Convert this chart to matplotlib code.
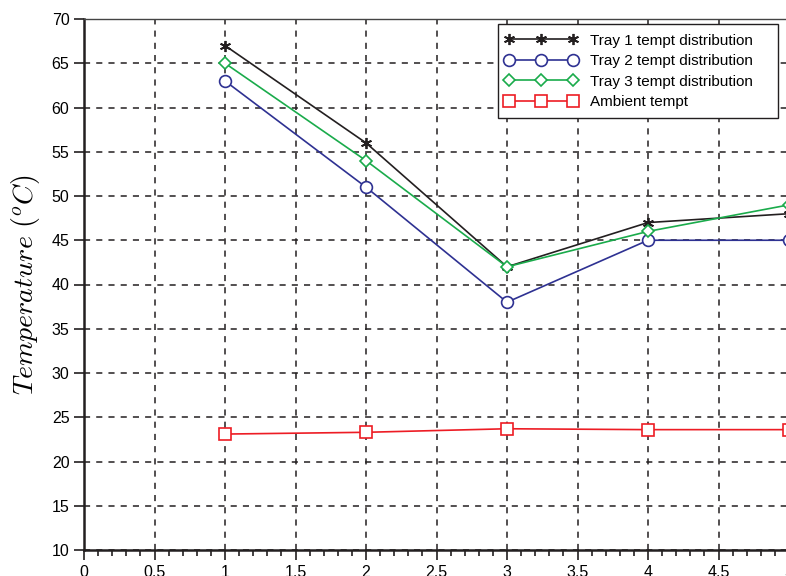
import numpy as np
import matplotlib
matplotlib.use('Agg')
import matplotlib.pyplot as plt
from matplotlib.patches import Rectangle
from matplotlib.ticker import MultipleLocator

# data
x = [1, 2, 3, 4, 5]
tray1 = [67, 56, 42, 47, 48]
tray2 = [63, 51, 38, 45, 45]
tray3 = [65, 54, 42, 46, 49]
ambient = [23.1, 23.3, 23.7, 23.6, 23.6]

plt.rcParams['font.family'] = 'Liberation Sans'
plt.rcParams['mathtext.fontset'] = 'cm'

fig = plt.figure(figsize=(7.86, 5.76), dpi=100)
ax = fig.add_axes([84/786, 26/576, 705/786, 531/576])

ax.plot(x, tray1, color='#231f20', lw=1.2, marker=(6, 2, 0), ms=8, mew=1.3,
        label='Tray 1 tempt distribution')
ax.plot(x, tray2, color='#2e3192', lw=1.2, marker='o', ms=8.5, mfc='white', mew=1.2,
        label='Tray 2 tempt distribution')
ax.plot(x, tray3, color='#1aab4b', lw=1.2, marker='D', ms=6, mfc='white', mew=1.2,
        label='Tray 3 tempt distribution')
ax.plot(x, ambient, color='#ed1c24', lw=1.2, marker='s', ms=8, mfc='white', mew=1.2,
        label='Ambient tempt')

ax.set_xlim(0, 5)
ax.set_ylim(10, 70)
ax.xaxis.set_minor_locator(MultipleLocator(0.1))
ax.yaxis.set_major_locator(MultipleLocator(5))
ax.set_xticks(np.arange(0, 5.01, 0.5))
ax.set_xticklabels(['0', '0.5', '1', '1.5', '2', '2.5', '3', '3.5', '4', '4.5', '5'])

ax.tick_params(which='major', direction='out', length=7, width=1.2, labelsize=11.5, color='#231f20')
ax.tick_params(which='minor', direction='out', length=4, width=1.2, color='#231f20')
ax.tick_params(axis='x', pad=3.5)
ax.grid(True, which='major', color='#231f20', ls=(0, (4, 4)), lw=1.1)

for s in ['left', 'bottom']:
    ax.spines[s].set_linewidth(1.8)
    ax.spines[s].set_color('#231f20')
ax.spines['top'].set_linewidth(1.0)
ax.spines['top'].set_color('#444444')

ax.set_ylabel(r'$Temperature\ (^oC)$', fontsize=20, labelpad=7)

# legend box is wider than its contents (matlab style), so draw the frame separately
box = Rectangle((0.587, 0.8136), 0.3974, 0.177, transform=ax.transAxes,
                facecolor='white', edgecolor='#231f20', lw=1.0, zorder=4.5)
ax.add_patch(box)
leg = ax.legend(loc='upper left', bbox_to_anchor=(0.587, 0.985), numpoints=3,
                handlelength=4.77, fontsize=11, frameon=False,
                borderpad=0.45, labelspacing=0.42,
                handletextpad=0.78, borderaxespad=0)
leg.set_zorder(5)

fig.savefig('out.png', dpi=100)
